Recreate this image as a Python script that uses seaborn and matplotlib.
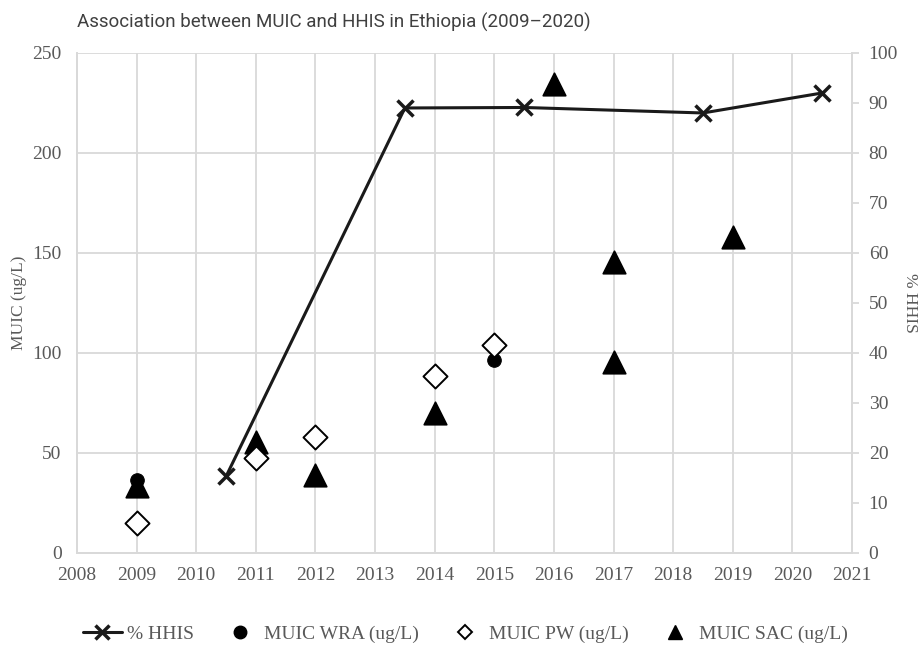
import numpy as np
import pandas as pd
import matplotlib
matplotlib.use("Agg")
import matplotlib.pyplot as plt
import seaborn as sns
from matplotlib.lines import Line2D

# Data
hhis_year = [2010.5, 2013.5, 2015.5, 2018.5, 2020.5]
hhis_pct = [15.3, 89.0, 89.1, 88.0, 92.0]

wra_year = [2009, 2015]
wra_muic = [36.6, 96.7]

pw_year = [2009, 2011, 2012, 2014, 2015]
pw_muic = [14.8, 47.5, 57.8, 88.5, 103.8]

sac_year = [2009, 2011, 2012, 2014, 2016, 2017, 2017, 2019]
sac_muic = [33.5, 55.5, 39.0, 70.0, 234.5, 145.5, 95.5, 158.0]

x_ticks = list(range(2008, 2022))
left_ticks = [0, 50, 100, 150, 200, 250]
right_ticks = list(range(0, 101, 10))

sns.set_theme(style="white")
plt.rcParams['font.family'] = ['Liberation Serif', 'DejaVu Serif']

gray_txt = "#595959"
grid_c = "#d9d9d9"

fig = plt.figure(figsize=(9.22, 6.46), dpi=100)
ax = fig.add_axes([0.0835, 0.144, 0.8406, 0.774])
ax2 = ax.twinx()

# MUIC series on the left axis
sns.scatterplot(x=wra_year, y=wra_muic, ax=ax, marker="o", s=95, color="black",
                edgecolor="black", zorder=3)
sns.scatterplot(x=pw_year, y=pw_muic, ax=ax, marker="D", s=150, facecolor="white",
                edgecolor="black", linewidth=1.4, zorder=4)
sns.scatterplot(x=sac_year, y=sac_muic, ax=ax, marker="^", s=260, color="black",
                edgecolor="black", zorder=3)

# % HHIS on the right axis
sns.lineplot(x=hhis_year, y=hhis_pct, ax=ax2, color="#1a1a1a", linewidth=2.2,
             marker="x", markersize=11, markeredgewidth=2.5, markeredgecolor="#1a1a1a")

ax.set_xlim(2008, 2021)
ax.set_ylim(0, 250)
ax2.set_ylim(0, 100)
ax.set_xticks(x_ticks)
ax.set_yticks(left_ticks)
ax2.set_yticks(right_ticks)

ax.grid(True, color=grid_c, linewidth=1.3)
ax.set_axisbelow(True)
ax2.grid(False)

for a in (ax, ax2):
    for s in a.spines.values():
        s.set_color(grid_c)
        s.set_linewidth(1.3)
    a.spines['top'].set_visible(False)

ax.tick_params(axis='x', length=0, labelsize=14, labelcolor=gray_txt, pad=10)
ax.tick_params(axis='y', length=0, labelsize=14, labelcolor=gray_txt, pad=11)
ax2.tick_params(axis='y', length=5, width=1.3, color=grid_c, labelsize=14,
                labelcolor=gray_txt, pad=7, direction='out')

ax.set_ylabel("MUIC (ug/L)", fontsize=12.5, color=gray_txt, labelpad=4)
ax2.set_ylabel("% HHIS", fontsize=12.5, color=gray_txt, rotation=270, labelpad=14)

fig.text(0.083, 0.957, "Association between MUIC and HHIS in Ethiopia (2009\u20132020)",
         fontsize=13.5, color="#404040", family=["Roboto", "DejaVu Sans"])

# legend along the bottom
handles = [
    Line2D([], [], color="#1a1a1a", linewidth=2.2, marker="x", markersize=10,
           markeredgewidth=2.5),
    Line2D([], [], linestyle="none", marker="o", markersize=9, color="black"),
    Line2D([], [], linestyle="none", marker="D", markersize=7, markerfacecolor="white",
           markeredgecolor="black", markeredgewidth=1.4),
    Line2D([], [], linestyle="none", marker="^", markersize=10, color="black"),
]
labels = ["% HHIS", "MUIC WRA (ug/L)", "MUIC PW (ug/L)", "MUIC SAC (ug/L)"]
leg = fig.legend(handles, labels, loc="center left", bbox_to_anchor=(83 / 922, 0.018),
                 ncol=4, frameon=False, fontsize=14, handlelength=2.0,
                 handletextpad=0.26, columnspacing=1.35, borderpad=0, borderaxespad=0)
for t in leg.get_texts():
    t.set_color(gray_txt)

fig.savefig("out.png", dpi=100)
